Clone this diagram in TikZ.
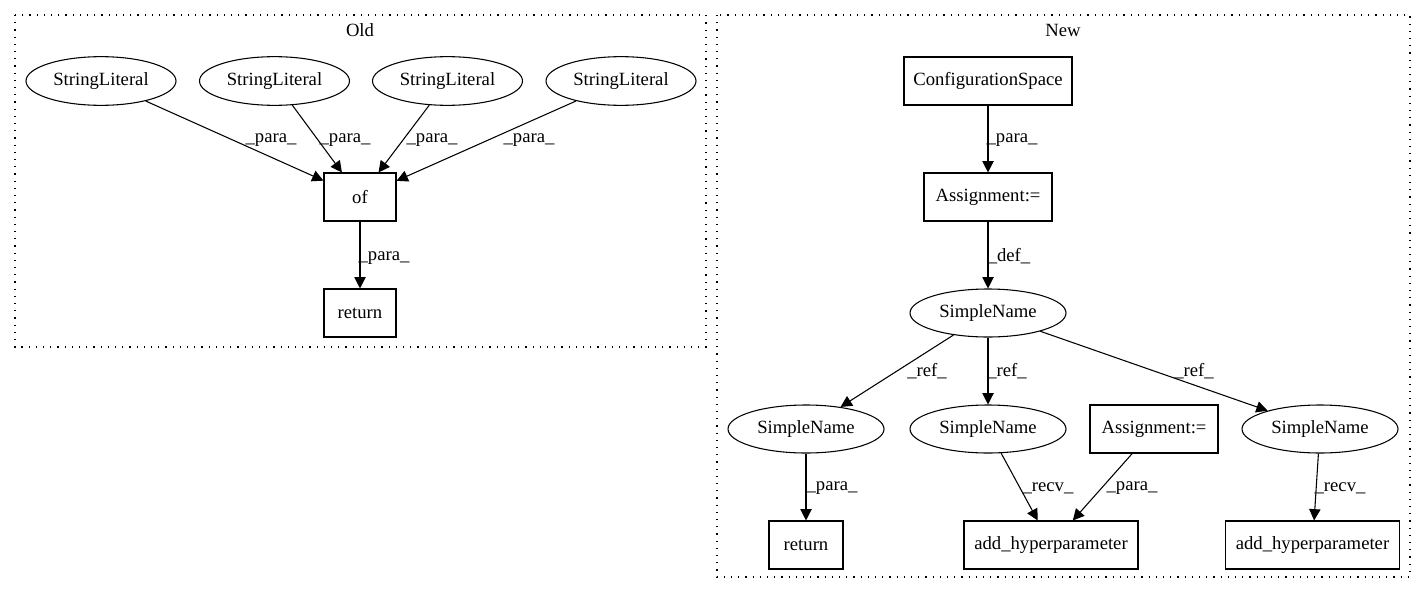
\documentclass[tikz,border=0pt]{standalone}
\usepackage{fontspec}
\setmainfont{Liberation Serif}
\usetikzlibrary{arrows.meta,shapes.geometric}
\begin{document}
\begin{tikzpicture}[x=0.75pt,y=-0.75pt,
  every node/.style={font=\fontsize{14}{16}\selectfont},
  ell/.style={draw, ellipse, line width=0.8pt, inner sep=0pt, minimum width=112.5pt, minimum height=36.5pt},
  sell/.style={draw, ellipse, line width=0.8pt, inner sep=0pt, minimum width=117pt, minimum height=36pt},
  box/.style={draw, rectangle, line width=0.8pt, inner sep=0pt, minimum height=36pt},
  edge/.style={line width=0.8pt, -{Triangle[length=8.5pt,width=8.5pt]}},
  lbl/.style={inner sep=0pt},
  cluster/.style={line width=0.8pt, dash pattern=on 0.9pt off 4.5pt}]
\useasboundingbox (0,0) rectangle (1416,596);
% clusters
\draw[cluster] (15,15) rectangle (706,347);
\draw[cluster] (717,15) rectangle (1410,577);
\node (oldlbl) at (360,30) {Old};
\node (newlbl) at (1063,30) {New};
% Old
\node[ell] (s1) at (101,81) {StringLiteral};
\node[ell] (s2) at (274.5,81) {StringLiteral};
\node[ell] (s3) at (447.5,81) {StringLiteral};
\node[ell] (s4) at (621,81) {StringLiteral};
\node[box, minimum width=54pt] (of) at (360,197) {of};
\node[box, minimum width=54pt] (ret1) at (360,313) {return};
\draw[edge] (s1) -- (of) node[lbl] at (271,140) {\_para\_};
\draw[edge] (s2) -- (of) node[lbl] at (345,140) {\_para\_};
\draw[edge] (s3) -- (of) node[lbl] at (432,140) {\_para\_};
\draw[edge] (s4) -- (of) node[lbl] at (529,140) {\_para\_};
\draw[edge] (of) -- (ret1) node[lbl] at (384,258) {\_para\_};
% New
\node[box, minimum width=126pt] (cs) at (988,81) {ConfigurationSpace};
\node[box, minimum width=96pt] (as1) at (988,197) {Assignment:=};
\node[sell] (sn0) at (988,313) {SimpleName};
\node[sell] (snl) at (806,429) {SimpleName};
\node[sell] (snm) at (988,429) {SimpleName};
\node[box, minimum width=96pt] (as2) at (1154,429) {Assignment:=};
\node[sell] (snr) at (1320,429) {SimpleName};
\node[box, minimum width=55.5pt] (ret2) at (806,545) {return};
\node[box, minimum width=130.5pt] (ah1) at (1051,545) {add\_hyperparameter};
\node[box, minimum width=130pt] (ah2) at (1312.5,545) {add\_hyperparameter};
\draw[edge] (cs) -- (as1) node[lbl] at (1012,140) {\_para\_};
\draw[edge] (as1) -- (sn0) node[lbl] at (1009,256) {\_def\_};
\draw[edge] (sn0) -- (snl) node[lbl] at (927,371) {\_ref\_};
\draw[edge] (sn0) -- (snm) node[lbl] at (1007,371) {\_ref\_};
\draw[edge] (sn0) -- (snr) node[lbl] at (1194,371) {\_ref\_};
\draw[edge] (snl) -- (ret2) node[lbl] at (832,488) {\_para\_};
\draw[edge] (snm) -- (ah1) node[lbl] at (1048,488) {\_recv\_};
\draw[edge] (as2) -- (ah1) node[lbl] at (1132,488) {\_para\_};
\draw[edge] (snr) -- (ah2) node[lbl] at (1340,488) {\_recv\_};
\end{tikzpicture}
\end{document}
